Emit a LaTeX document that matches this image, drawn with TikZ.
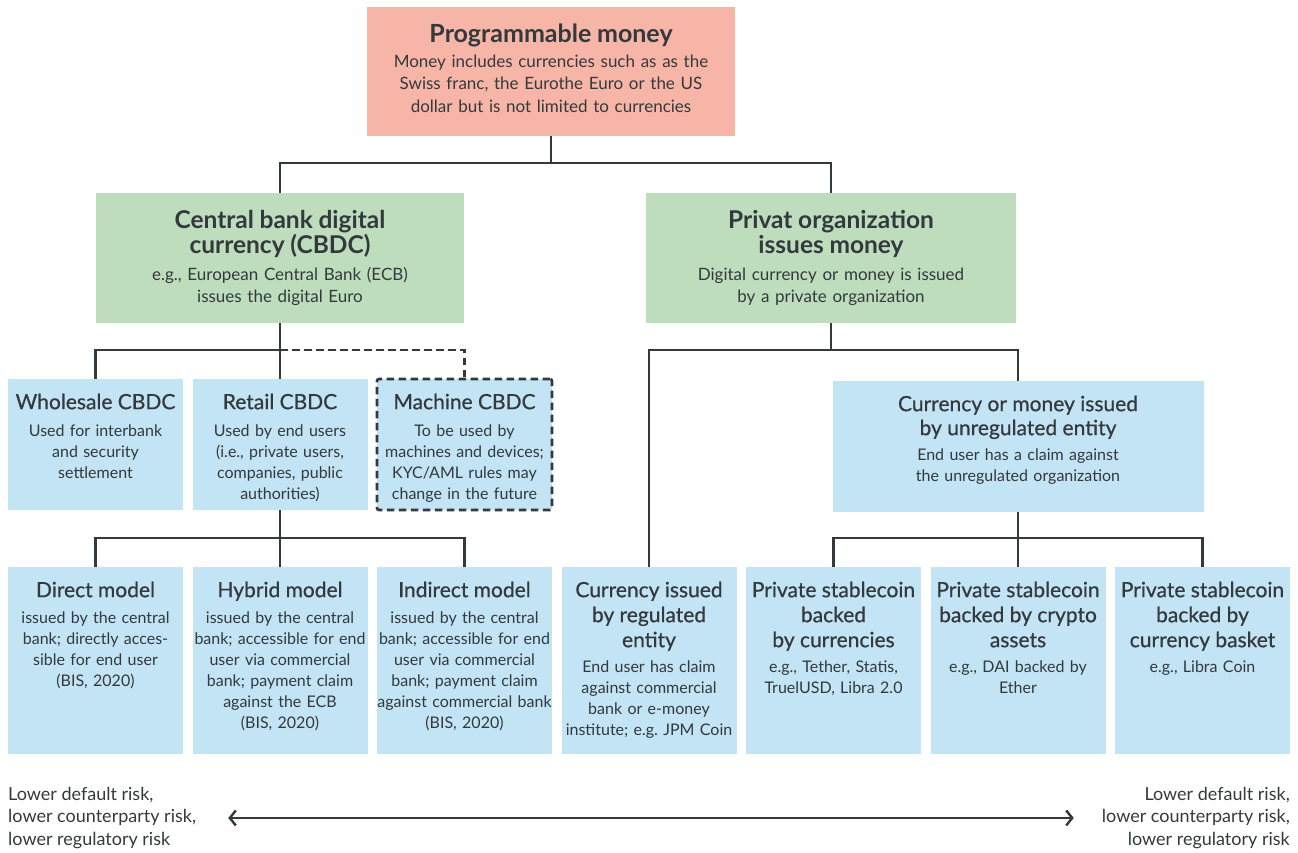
\documentclass[tikz,border=0pt]{standalone}
\usepackage{fontspec}
\setmainfont{Lato}
\newfontfamily\medfont[FakeBold=0.6]{Lato}
\usetikzlibrary{positioning, arrows.meta}
\frenchspacing

\definecolor{ink}{HTML}{33393D}
\definecolor{salmon}{HTML}{F6B5A6}
\definecolor{mint}{HTML}{BDDDBC}
\definecolor{sky}{HTML}{C2E4F4}

\newcommand\tophead{\bfseries\fontsize{25}{25}\selectfont}
\newcommand\greenhead{\bfseries\fontsize{24.5}{25}\selectfont}
\newcommand\bluehead{\medfont\fontsize{21}{25}\selectfont}
\newcommand\unreghead{\medfont\fontsize{21}{24}\selectfont}

\begin{document}
\begin{tikzpicture}[x=1pt, y=-1pt,
		% boxes
		topbox/.style={rectangle, fill=salmon, inner sep=0pt, outer sep=0pt,
			minimum width=368pt, minimum height=129pt},
		greenbox/.style={rectangle, fill=mint, inner sep=0pt, outer sep=0pt,
			minimum width=368pt, minimum height=130.5pt},
		bluebox/.style={rectangle, fill=sky, inner sep=0pt, outer sep=0pt,
			minimum width=175pt, minimum height=187pt},
		smallbox/.style={bluebox, minimum height=131pt},
		dashbox/.style={smallbox, draw=ink, line width=2.6pt, dash pattern=on 7.5pt off 4.5pt,
			rounded corners=2pt},
		% texts
		boxtext/.style={inner sep=0pt, align=center, text=ink, text width=184pt,
			font=\fontsize{16}{21}\selectfont},
		bigtext/.style={boxtext, text width=372pt, font=\fontsize{17}{22.5}\selectfont},
		risktext/.style={inner sep=0pt, text=ink, font=\fontsize{18}{22.5}\selectfont},
		% connectors
		tree/.style={draw=ink, line width=2.9pt},
		dashtree/.style={tree, line width=2.6pt, dash pattern=on 7.5pt off 4.5pt},
		riskarrow/.style={draw=ink, line width=2.4pt, {Straight Barb[length=6pt, width=15pt]}-{Straight Barb[length=6pt, width=15pt]}}
		]
		\useasboundingbox (0,0) rectangle (1298,852);
		
		% bottom row
		\node[bluebox] (direct) at (95.5,660) {};
		\node[bluebox, right=9.5pt of direct] (hybrid) {};
		\node[bluebox, right=9.5pt of hybrid] (indirect) {};
		\node[bluebox, right=9.5pt of indirect] (regulated) {};
		\node[bluebox, right=9.5pt of regulated] (fiatcoin) {};
		\node[bluebox, right=9.5pt of fiatcoin] (cryptocoin) {};
		\node[bluebox, right=9.5pt of cryptocoin] (basketcoin) {};
		
		% middle row
		\node[smallbox, above=56.5pt of direct] (wholesale) {};
		\node[smallbox, above=56.5pt of hybrid] (retail) {};
		\node[dashbox, above=56.5pt of indirect] (machine) {};
		\node[smallbox, minimum width=371pt, above=54.5pt of cryptocoin] (unregulated) {};
		
		% upper rows
		\node[greenbox, above=56pt of retail] (cbdc) {};
		\node[greenbox, minimum width=370pt, right=182pt of cbdc] (privat) {};
		\node[topbox] (money) at (551,71.5) {};
		
		% texts of the boxes
		\node[bigtext, below=16.3pt of money.north] (moneytxt) {{\tophead Programmable money\par}\vspace{2.5pt}
			Money includes currencies such as as the\\ Swiss franc, the Eurothe Euro or the US\\ dollar but is not limited to currencies};
		\node[bigtext, below=17.5pt of cbdc.north] (cbdctxt) {{\greenhead Central bank digital\\ currency (CBDC)\par}\vspace{4.5pt}
			e.g., European Central Bank (ECB)\\ issues the digital Euro};
		\node[bigtext, below=17.5pt of privat.north] (privattxt) {{\greenhead Privat organization\\ issues money\par}\vspace{4.5pt}
			Digital currency or money is issued\\ by a private organization};
		
		\node[boxtext, below=14.5pt of wholesale.north] (wholesaletxt) {{\bluehead Wholesale CBDC\par}\vspace{6pt}
			Used for interbank\\ and security\\ settlement};
		\node[boxtext, below=14.5pt of retail.north] (retailtxt) {{\bluehead Retail CBDC\par}\vspace{6pt}
			Used by end users\\ (i.e., private users,\\ companies, public\\ authorities)};
		\node[boxtext, below=14.5pt of machine.north] (machinetxt) {{\bluehead Machine CBDC\par}\vspace{6pt}
			To be used by\\ machines and devices;\\ KYC/AML rules may\\ change in the future};
		\node[bigtext, font=\fontsize{16}{21}\selectfont, below=14.5pt of unregulated.north] (unregulatedtxt) {{\unreghead Currency or money issued\\ by unregulated entity\par}\vspace{4pt}
			End user has a claim against\\ the unregulated organization};
		
		\node[boxtext, below=15pt of direct.north] (directtxt) {{\bluehead Direct model\par}\vspace{5pt}
			issued by the central\\ bank; directly acces-\\ sible for end user\\ (BIS, 2020)};
		\node[boxtext, below=15pt of hybrid.north] (hybridtxt) {{\bluehead Hybrid model\par}\vspace{5pt}
			issued by the central\\ bank; accessible for end\\ user via commercial\\ bank; payment claim\\ against the ECB\\ (BIS, 2020)};
		\node[boxtext, below=15pt of indirect.north] (indirecttxt) {{\bluehead Indirect model\par}\vspace{5pt}
			issued by the central\\ bank; accessible for end\\ user via commercial\\ bank; payment claim\\ against commercial bank\\ (BIS, 2020)};
		\node[boxtext, below=15pt of regulated.north] (regulatedtxt) {{\bluehead Currency issued\\ by regulated\\ entity\par}\vspace{4pt}
			End user has claim\\ against commercial\\ bank or e-money\\ institute; e.g. JPM Coin};
		\node[boxtext, below=15pt of fiatcoin.north] (fiatcointxt) {{\bluehead Private stablecoin\\ backed\\ by currencies\par}\vspace{4pt}
			e.g., Tether, Statis,\\ TruelUSD, Libra 2.0};
		\node[boxtext, below=15pt of cryptocoin.north] (cryptocointxt) {{\bluehead Private stablecoin\\ backed by crypto\\ assets\par}\vspace{4pt}
			e.g., DAI backed by\\ Ether};
		\node[boxtext, below=15pt of basketcoin.north] (basketcointxt) {{\bluehead Private stablecoin\\ backed by\\ currency basket\par}\vspace{4pt}
			e.g., Libra Coin};
		
		% tree connectors
		\coordinate (moneysplit) at ([yshift=-27pt]money.south);
		\draw[tree] (money.south) -- (moneysplit) -| (cbdc.north);
		\draw[tree] (moneysplit) -| (privat.north);
		
		\coordinate (cbdcsplit) at ([yshift=-27pt]cbdc.south);
		\draw[tree] (cbdc.south) -- (cbdcsplit) -| (wholesale.north);
		\draw[tree] (cbdcsplit) -- (retail.north);
		\draw[dashtree] (cbdcsplit) -| (machine.north);
		
		\coordinate (privatsplit) at ([yshift=-27pt]privat.south);
		\draw[tree] (privat.south) -- (privatsplit) -| (regulated.north);
		\draw[tree] (privatsplit) -| (unregulated.north);
		
		\coordinate (retailsplit) at ([yshift=-28pt]retail.south);
		\draw[tree] (retail.south) -- (retailsplit) -| (direct.north);
		\draw[tree] (retailsplit) -- (hybrid.north);
		\draw[tree] (retailsplit) -| (indirect.north);
		
		\coordinate (unregsplit) at ([yshift=-26pt]unregulated.south);
		\draw[tree] (unregulated.south) -- (unregsplit) -| (fiatcoin.north);
		\draw[tree] (unregsplit) -- (cryptocoin.north);
		\draw[tree] (unregsplit) -| (basketcoin.north);
		
		% risk scale
		\node[risktext, align=left, anchor=north west] (riskleft) at (8,787) {Lower default risk,\\ lower counterparty risk,\\ lower regulatory risk};
		\node[risktext, align=right, anchor=north east] (riskright) at (1290,787) {Lower default risk,\\ lower counterparty risk,\\ lower regulatory risk};
		\draw[riskarrow] ([xshift=32pt]riskleft.east) -- ([xshift=-28pt]riskright.west);
		
	\end{tikzpicture}
\end{document}
